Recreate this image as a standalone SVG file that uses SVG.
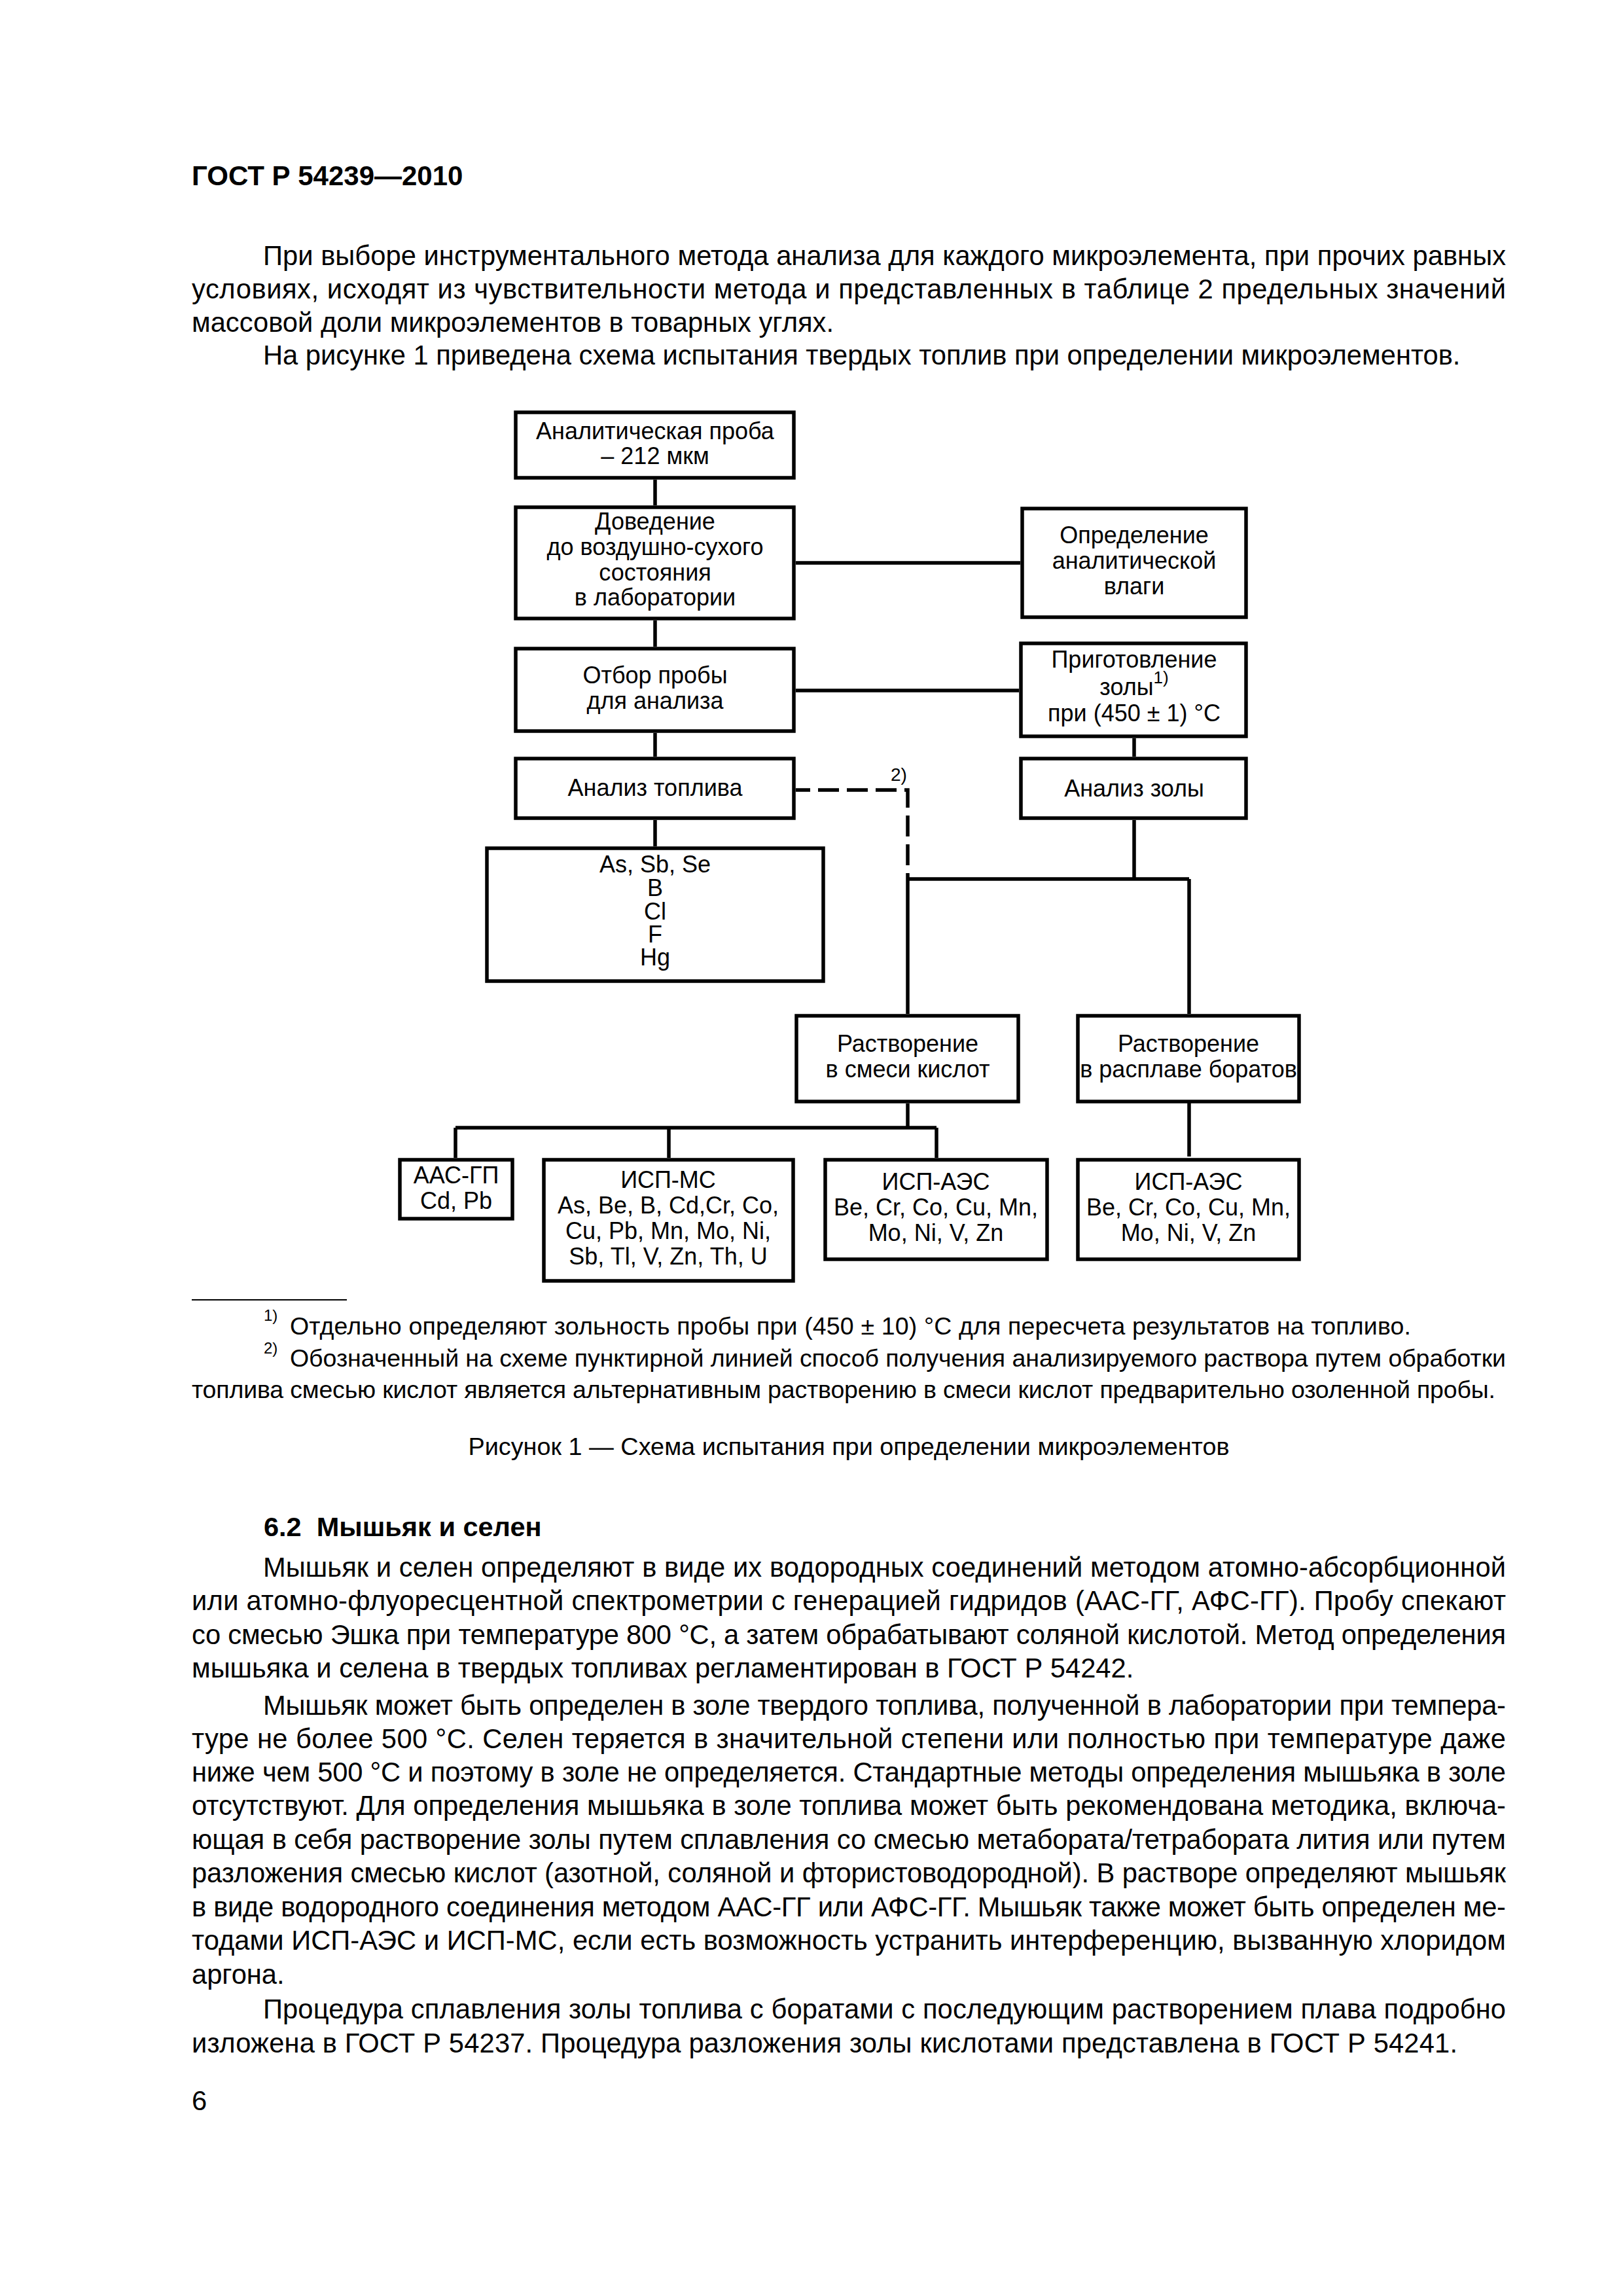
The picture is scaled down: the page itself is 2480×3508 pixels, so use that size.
<svg xmlns="http://www.w3.org/2000/svg" width="2480" height="3508" viewBox="0 0 2480 3508">
<style>
text{font-family:"Liberation Sans",Arial,sans-serif;fill:#000}
.bx{fill:#fff;stroke:#000;stroke-width:5.5}
.ln{fill:none;stroke:#000;stroke-width:5.5}
.dl{fill:none;stroke:#000;stroke-width:5.5;stroke-dasharray:32 12}
.n{font-size:36px;text-anchor:middle}
.b{font-size:41.7px}
.fn{font-size:37.5px}
.sup{font-size:24px}
.h{font-size:42px;font-weight:bold}
</style>
<rect width="2480" height="3508" fill="#fff"/>
<text class="h" x="293" y="283">ГОСТ Р 54239—2010</text>
<text class="b" x="402" y="405" textLength="1899" lengthAdjust="spacing">При выборе инструментального метода анализа для каждого микроэлемента, при прочих равных</text>
<text class="b" x="293" y="456" textLength="2008" lengthAdjust="spacing">условиях, исходят из чувствительности метода и представленных в таблице 2 предельных значений</text>
<text class="b" x="293" y="507">массовой доли микроэлементов в товарных углях.</text>
<text class="b" x="402" y="557">На рисунке 1 приведена схема испытания твердых топлив при определении микроэлементов.</text>

<g id="connectors">
<path class="ln" d="M1001 733V772M1001 948V988M1001 1120V1156M1001 1253V1293"/>
<path class="ln" d="M1216 860H1559M1216 1055H1557"/>
<path class="ln" d="M1733 1128V1156M1733 1253V1343M1387 1343H1817M1387 1343V1549M1817 1343V1549"/>
<path class="dl" d="M1216 1207H1387V1343" stroke-dashoffset="10"/>
<path class="ln" d="M1387 1686V1723M696 1723H1431M696 1723V1769M1022 1723V1769M1431 1723V1769M1817 1685V1767"/>
</g>
<text x="1361" y="1193" style="font-size:28px">2)</text>

<g id="n-sample">
<rect class="bx" x="788" y="630" width="425" height="100"/>
<text class="n" x="1001" y="671">Аналитическая проба</text>
<text class="n" x="1001" y="709">– 212 мкм</text>
</g>
<g id="n-dry">
<rect class="bx" x="788" y="775" width="425" height="170"/>
<text class="n" x="1001" y="809">Доведение</text>
<text class="n" x="1001" y="848">до воздушно-сухого</text>
<text class="n" x="1001" y="887">состояния</text>
<text class="n" x="1001" y="925">в лаборатории</text>
</g>
<g id="n-moist">
<rect class="bx" x="1562" y="777" width="342" height="166"/>
<text class="n" x="1733" y="830">Определение</text>
<text class="n" x="1733" y="869">аналитической</text>
<text class="n" x="1733" y="908">влаги</text>
</g>
<g id="n-take">
<rect class="bx" x="788" y="991" width="425" height="126"/>
<text class="n" x="1001" y="1044">Отбор пробы</text>
<text class="n" x="1001" y="1083">для анализа</text>
</g>
<g id="n-ash">
<rect class="bx" x="1560" y="983" width="344" height="142"/>
<text class="n" x="1733" y="1020">Приготовление</text>
<text class="n" x="1733" y="1062">золы<tspan dy="-18" style="font-size:26px">1)</tspan></text>
<text class="n" x="1733" y="1102">при (450 ± 1) °С</text>
</g>
<g id="n-fuel">
<rect class="bx" x="788" y="1159" width="425" height="91"/>
<text class="n" x="1001" y="1216">Анализ топлива</text>
</g>
<g id="n-ashan">
<rect class="bx" x="1560" y="1159" width="344" height="91"/>
<text class="n" x="1733" y="1217">Анализ золы</text>
</g>
<g id="n-elem">
<rect class="bx" x="744" y="1296" width="514" height="203"/>
<text class="n" x="1001" y="1333">As, Sb, Se</text>
<text class="n" x="1001" y="1369">B</text>
<text class="n" x="1001" y="1405">Cl</text>
<text class="n" x="1001" y="1440">F</text>
<text class="n" x="1001" y="1475">Hg</text>
</g>
<g id="n-acid">
<rect class="bx" x="1217" y="1552" width="339" height="131"/>
<text class="n" x="1387" y="1607">Растворение</text>
<text class="n" x="1387" y="1646">в смеси кислот</text>
</g>
<g id="n-borate">
<rect class="bx" x="1647" y="1552" width="338" height="131"/>
<text class="n" x="1816" y="1607">Растворение</text>
<text class="n" x="1816" y="1646">в расплаве боратов</text>
</g>
<g id="n-aas">
<rect class="bx" x="611" y="1772" width="172" height="90"/>
<text class="n" x="697" y="1808">ААС-ГП</text>
<text class="n" x="697" y="1847">Cd, Pb</text>
</g>
<g id="n-icpms">
<rect class="bx" x="831" y="1772" width="381" height="185"/>
<text class="n" x="1021" y="1815">ИСП-МС</text>
<text class="n" x="1021" y="1854">As, Be, B, Cd,Cr, Co,</text>
<text class="n" x="1021" y="1893">Cu, Pb, Mn, Mo, Ni,</text>
<text class="n" x="1021" y="1932">Sb, Tl, V, Zn, Th, U</text>
</g>
<g id="n-icpaes1">
<rect class="bx" x="1261" y="1772" width="339" height="152"/>
<text class="n" x="1430" y="1818">ИСП-АЭС</text>
<text class="n" x="1430" y="1857">Be, Cr, Co, Cu, Mn,</text>
<text class="n" x="1430" y="1896">Mo, Ni, V, Zn</text>
</g>
<g id="n-icpaes2">
<rect class="bx" x="1647" y="1772" width="338" height="152"/>
<text class="n" x="1816" y="1818">ИСП-АЭС</text>
<text class="n" x="1816" y="1857">Be, Cr, Co, Cu, Mn,</text>
<text class="n" x="1816" y="1896">Mo, Ni, V, Zn</text>
</g>

<line x1="293" y1="1986" x2="530" y2="1986" stroke="#000" stroke-width="2"/>
<text class="sup" x="403" y="2018">1)</text>
<text class="fn" x="443" y="2039" textLength="1713" lengthAdjust="spacing">Отдельно определяют зольность пробы при (450 ± 10) °С для пересчета результатов на топливо.</text>
<text class="sup" x="403" y="2068">2)</text>
<text class="fn" x="443" y="2088" textLength="1858" lengthAdjust="spacing">Обозначенный на схеме пунктирной линией способ получения анализируемого раствора путем обработки</text>
<text class="fn" x="293" y="2136" textLength="1992" lengthAdjust="spacing">топлива смесью кислот является альтернативным растворению в смеси кислот предварительно озоленной пробы.</text>
<text style="font-size:37.8px;text-anchor:middle" x="1297" y="2223">Рисунок 1 — Схема испытания при определении микроэлементов</text>

<text class="h" x="403" y="2347" xml:space="preserve" style="font-size:41.5px">6.2  Мышьяк и селен</text>
<text class="b" x="402" y="2409" textLength="1899" lengthAdjust="spacing">Мышьяк и селен определяют в виде их водородных соединений методом атомно-абсорбционной</text>
<text class="b" x="293" y="2460" textLength="2008" lengthAdjust="spacing">или атомно-флуоресцентной спектрометрии с генерацией гидридов (ААС-ГГ, АФС-ГГ). Пробу спекают</text>
<text class="b" x="293" y="2512" textLength="2008" lengthAdjust="spacing">со смесью Эшка при температуре 800 °С, а затем обрабатывают соляной кислотой. Метод определения</text>
<text class="b" x="293" y="2563">мышьяка и селена в твердых топливах регламентирован в ГОСТ Р 54242.</text>
<text class="b" x="402" y="2620" textLength="1899" lengthAdjust="spacing">Мышьяк может быть определен в золе твердого топлива, полученной в лаборатории при темпера-</text>
<text class="b" x="293" y="2671" textLength="2008" lengthAdjust="spacing">туре не более 500 °С. Селен теряется в значительной степени или полностью при температуре даже</text>
<text class="b" x="293" y="2722" textLength="2008" lengthAdjust="spacing">ниже чем 500 °С и поэтому в золе не определяется. Стандартные методы определения мышьяка в золе</text>
<text class="b" x="293" y="2773" textLength="2008" lengthAdjust="spacing">отсутствуют. Для определения мышьяка в золе топлива может быть рекомендована методика, включа-</text>
<text class="b" x="293" y="2825" textLength="2008" lengthAdjust="spacing">ющая в себя растворение золы путем сплавления со смесью метабората/тетрабората лития или путем</text>
<text class="b" x="293" y="2876" textLength="2008" lengthAdjust="spacing">разложения смесью кислот (азотной, соляной и фтористоводородной). В растворе определяют мышьяк</text>
<text class="b" x="293" y="2928" textLength="2008" lengthAdjust="spacing">в виде водородного соединения методом ААС-ГГ или АФС-ГГ. Мышьяк также может быть определен ме-</text>
<text class="b" x="293" y="2979" textLength="2008" lengthAdjust="spacing">тодами ИСП-АЭС и ИСП-МС, если есть возможность устранить интерференцию, вызванную хлоридом</text>
<text class="b" x="293" y="3031">аргона.</text>
<text class="b" x="402" y="3084" textLength="1899" lengthAdjust="spacing">Процедура сплавления золы топлива с боратами с последующим растворением плава подробно</text>
<text class="b" x="293" y="3136" textLength="1934" lengthAdjust="spacing">изложена в ГОСТ Р 54237. Процедура разложения золы кислотами представлена в ГОСТ Р 54241.</text>
<text class="b" x="293" y="3224">6</text>
</svg>
